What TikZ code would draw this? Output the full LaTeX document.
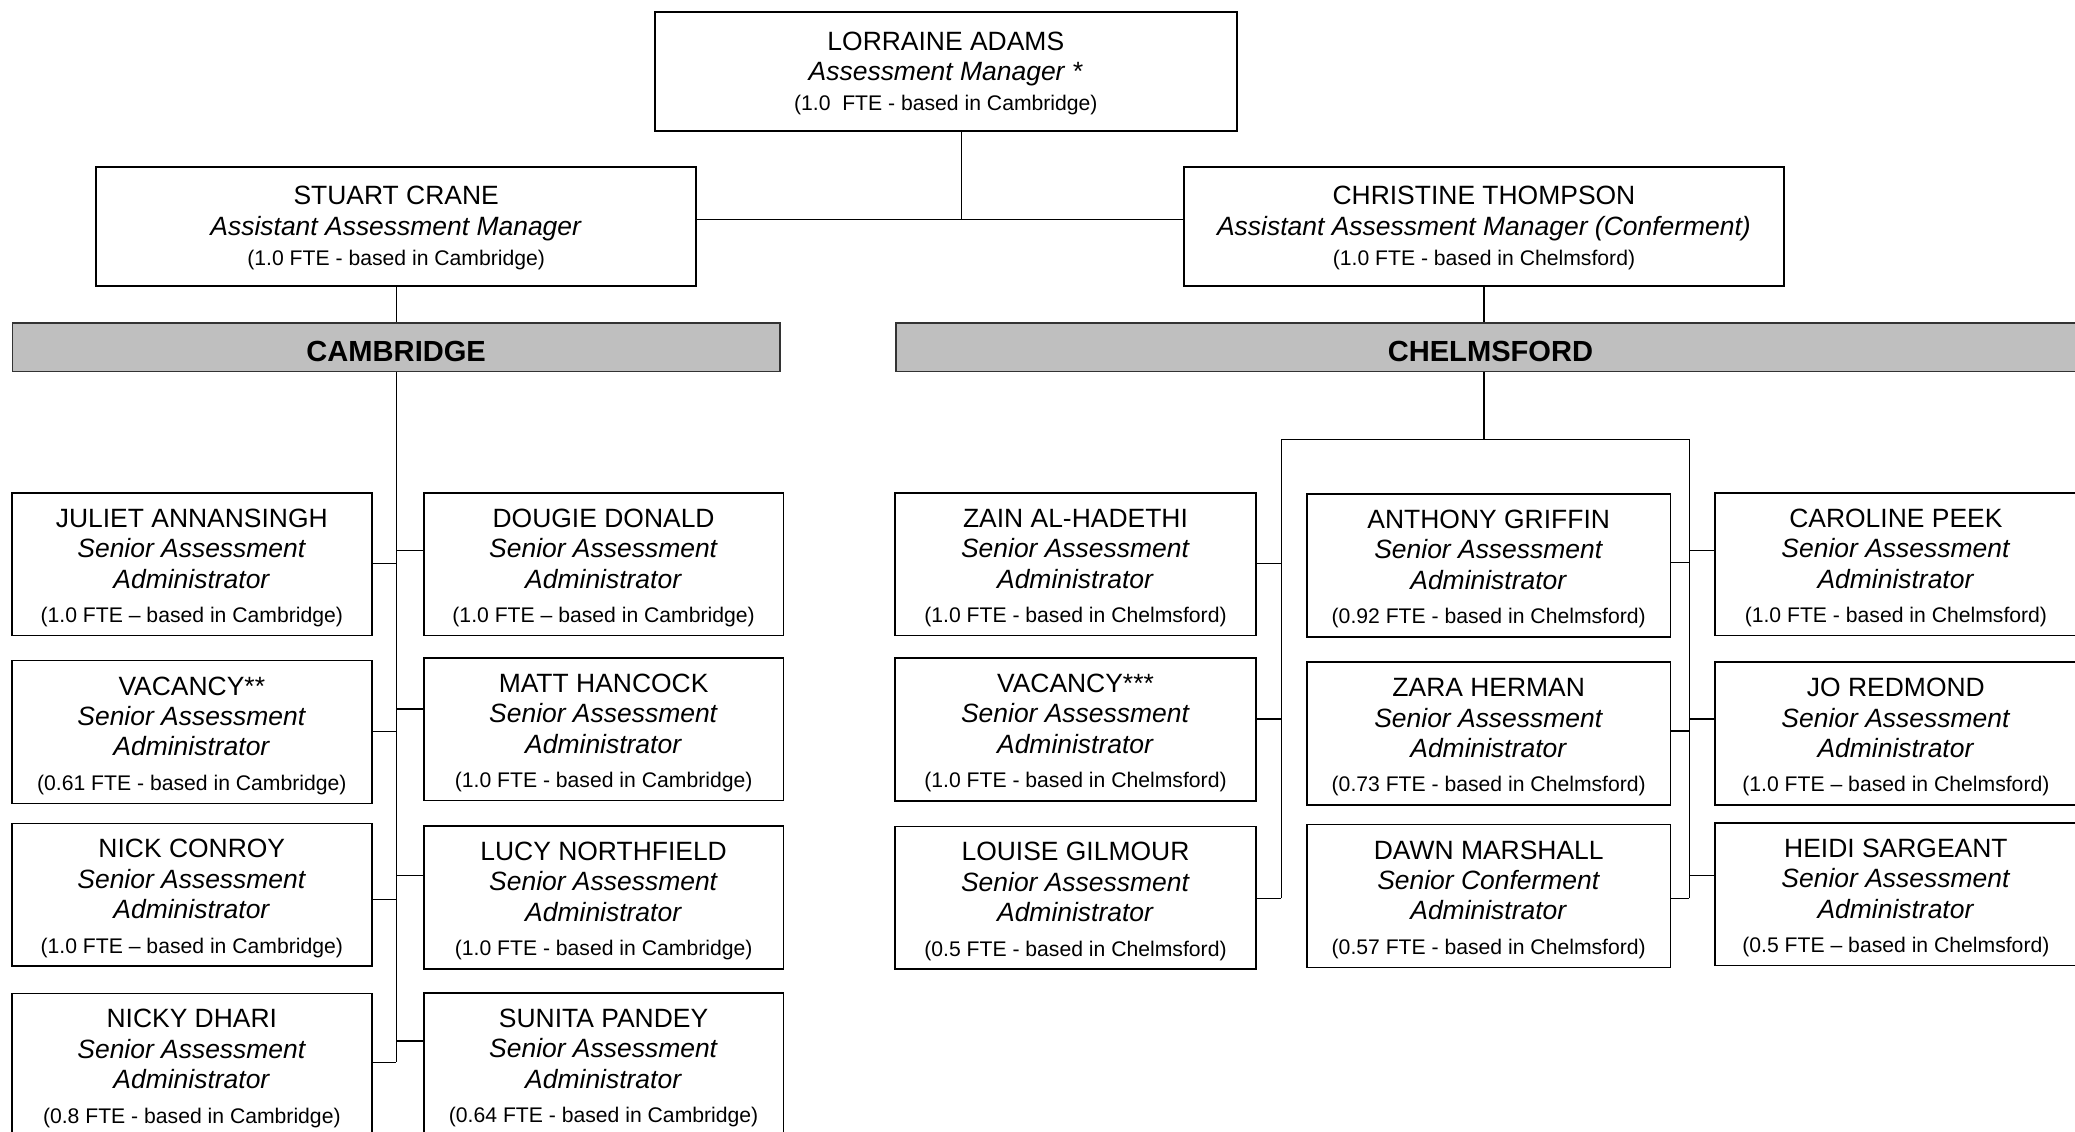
\documentclass[tikz,border=0pt]{standalone}
\usepackage{fontspec}
\setmainfont{Liberation Sans}
\newcommand\ftel[1]{\\[3pt]{\fontsize{16}{20}\selectfont #1}}
\newcommand\topfte[1]{\\[0pt]{\fontsize{16}{20}\selectfont #1}}
\newcommand\sar{\\\textit{Senior Assessment}\\\textit{Administrator}}
\newcommand\fs{\rule{0pt}{19.5pt}}
\newcommand\tfs{\rule{0pt}{17pt}}
\begin{document}
\begin{tikzpicture}[x=1pt,y=-1pt,
  box/.style={draw=black, line width=1.3pt, inner sep=0pt, align=center,
     font=\fontsize{20}{23}\selectfont},
  staff/.style={box, minimum width=272pt, minimum height=108pt},
  bar/.style={draw=black!80, line width=1.3pt, fill=black!25, inner sep=0pt,
     minimum height=37pt, font=\fontsize{22}{24}\selectfont\bfseries},
  conn/.style={draw=black, line width=1pt}]
\path[use as bounding box, fill=white] (0,0) rectangle (1568.6,855);

% top level
\node[box, minimum width=440pt, minimum height=90pt] (lorraine) at (715,54)
  {\tfs LORRAINE ADAMS\\\textit{Assessment Manager *}\topfte{(1.0~~FTE - based in Cambridge)}};
\node[box, minimum width=453.6pt, minimum height=90pt] (stuart) at (299.5,171)
  {\tfs STUART CRANE\\\textit{Assistant Assessment Manager}\topfte{(1.0 FTE - based in Cambridge)}};
\node[box, minimum width=454pt, minimum height=90pt] (christine) at (1121.8,171)
  {\tfs CHRISTINE THOMPSON\\\textit{Assistant Assessment Manager (Conferment)}\topfte{(1.0 FTE - based in Chelmsford)}};

% bars
\node[bar, minimum width=580.3pt] (cam) at (299.5,262.4) {\rule{0pt}{22pt}CAMBRIDGE};
\node[bar, minimum width=898.6pt] (chel) at (1126.7,262.4) {\rule{0pt}{22pt}CHELMSFORD};

% Cambridge staff
\node[staff] (juliet) at (145,426.5) {\fs JULIET ANNANSINGH\sar\ftel{(1.0 FTE – based in Cambridge)}};
\node[staff] (vac2) at (145,553.3) {\fs VACANCY**\sar\ftel{(0.61 FTE - based in Cambridge)}};
\node[staff] (nick) at (145,676.5) {\fs NICK CONROY\sar\ftel{(1.0 FTE – based in Cambridge)}};
\node[staff] (nicky) at (145,805) {\fs NICKY DHARI\sar\ftel{(0.8 FTE - based in Cambridge)}};
\node[staff] (dougie) at (456.3,426.5) {\fs DOUGIE DONALD\sar\ftel{(1.0 FTE – based in Cambridge)}};
\node[staff] (matt) at (456.3,551.2) {\fs MATT HANCOCK\sar\ftel{(1.0 FTE - based in Cambridge)}};
\node[staff] (lucy) at (456.3,678.3) {\fs LUCY NORTHFIELD\sar\ftel{(1.0 FTE - based in Cambridge)}};
\node[staff] (sunita) at (456.3,804.5) {\fs SUNITA PANDEY\sar\ftel{(0.64 FTE - based in Cambridge)}};

% Chelmsford staff
\node[staff, minimum width=273pt] (zain) at (813,426.5) {\fs ZAIN AL-HADETHI\sar\ftel{(1.0 FTE - based in Chelmsford)}};
\node[staff, minimum width=273pt] (vac3) at (813,551.3) {\fs VACANCY***\sar\ftel{(1.0 FTE - based in Chelmsford)}};
\node[staff, minimum width=273pt] (louise) at (813,678.7) {\fs LOUISE GILMOUR\sar\ftel{(0.5 FTE - based in Chelmsford)}};
\node[staff, minimum width=274.7pt] (anthony) at (1125.4,427.3) {\fs ANTHONY GRIFFIN\sar\ftel{(0.92 FTE - based in Chelmsford)}};
\node[staff, minimum width=274.7pt] (zara) at (1125.4,554.5) {\fs ZARA HERMAN\sar\ftel{(0.73 FTE - based in Chelmsford)}};
\node[staff, minimum width=274.7pt] (dawn) at (1125.4,677.3) {\fs DAWN MARSHALL\\\textit{Senior Conferment}\\\textit{Administrator}\ftel{(0.57 FTE - based in Chelmsford)}};
\node[staff, minimum width=273pt] (caroline) at (1433.2,426.5) {\fs CAROLINE PEEK\sar\ftel{(1.0 FTE - based in Chelmsford)}};
\node[staff, minimum width=273pt] (jo) at (1433.2,554.5) {\fs JO REDMOND\sar\ftel{(1.0 FTE – based in Chelmsford)}};
\node[staff, minimum width=273pt] (heidi) at (1433.2,675.9) {\fs HEIDI SARGEANT\sar\ftel{(0.5 FTE – based in Chelmsford)}};

% junction coordinates
\coordinate (jtop) at (727,166);
\coordinate (cbot) at (299.5,803);
\coordinate (kj) at (299.5,426);
\coordinate (kv2) at (299.5,553);
\coordinate (kn) at (299.5,680);
\coordinate (kd) at (299.5,416);
\coordinate (km) at (299.5,536);
\coordinate (klu) at (299.5,662);
\coordinate (ks) at (299.5,787);
\coordinate (hl) at (968.5,332);
\coordinate (hr) at (1277,332);
\coordinate (kz) at (968.5,426);
\coordinate (kv3) at (968.5,543.5);
\coordinate (kl3) at (968.5,679);
\coordinate (ka) at (1277,425);
\coordinate (kzh) at (1277,552.7);
\coordinate (kr3) at (1277,679);
\coordinate (kc) at (1277,416);
\coordinate (kjr) at (1277,543.5);
\coordinate (kh) at (1277,662);

% top connectors
\draw[conn] (lorraine.south -| jtop) -- (jtop);
\draw[conn] (stuart.east |- jtop) -- (christine.west |- jtop);
\draw[conn] (stuart.south) -- (cam.north);
\draw[conn] (christine.south) -- (christine.south |- chel.north);

% Cambridge tree
\draw[conn] (cam.south) -- (cbot);
\draw[conn] (juliet.east |- kj) -- (kj);
\draw[conn] (vac2.east |- kv2) -- (kv2);
\draw[conn] (nick.east |- kn) -- (kn);
\draw[conn] (nicky.east |- cbot) -- (cbot);
\draw[conn] (kd) -- (kd -| dougie.west);
\draw[conn] (km) -- (km -| matt.west);
\draw[conn] (klu) -- (klu -| lucy.west);
\draw[conn] (ks) -- (ks -| sunita.west);

% Chelmsford tree
\draw[conn] (christine.south |- chel.south) -- (christine.south |- hl);
\draw[conn] (kl3) -- (hl) -- (hr) -- (kr3);
\draw[conn] (zain.east |- kz) -- (kz);
\draw[conn] (vac3.east |- kv3) -- (kv3);
\draw[conn] (louise.east |- kl3) -- (kl3);
\draw[conn] (anthony.east |- ka) -- (ka);
\draw[conn] (zara.east |- kzh) -- (kzh);
\draw[conn] (dawn.east |- kr3) -- (kr3);
\draw[conn] (kc) -- (kc -| caroline.west);
\draw[conn] (kjr) -- (kjr -| jo.west);
\draw[conn] (kh) -- (kh -| heidi.west);
\end{tikzpicture}
\end{document}
